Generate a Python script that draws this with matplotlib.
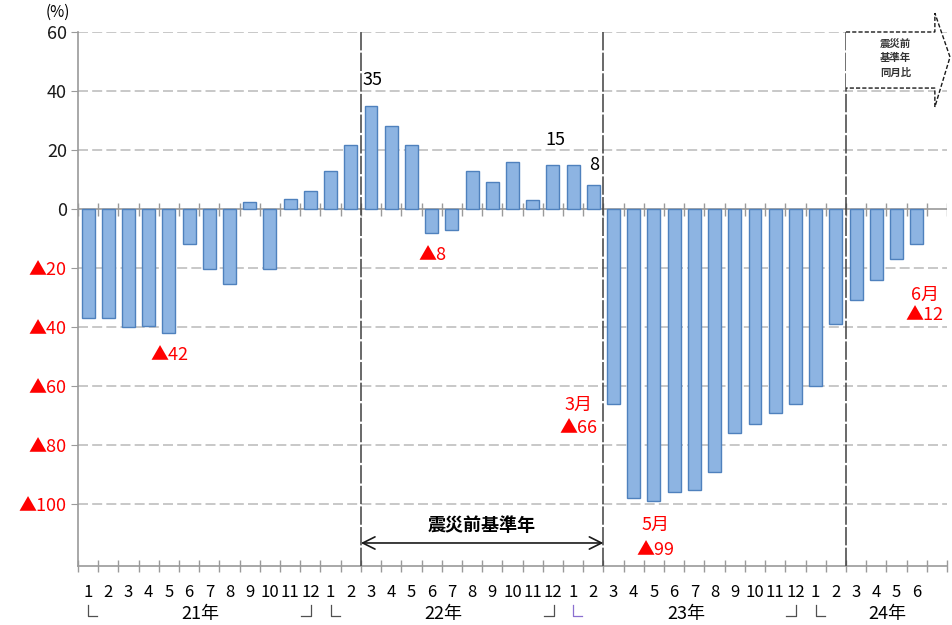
import numpy as np
import matplotlib
matplotlib.use('Agg')
import matplotlib.pyplot as plt
from matplotlib.patches import Polygon
from matplotlib.lines import Line2D
from matplotlib.transforms import blended_transform_factory

plt.rcParams['font.family'] = ['Noto Sans CJK JP', 'DejaVu Sans']

# monthly change (%) vs. pre-disaster base year, 21年1月 .. 24年6月
months = [1, 2, 3, 4, 5, 6, 7, 8, 9, 10, 11, 12,
          1, 2, 3, 4, 5, 6, 7, 8, 9, 10, 11, 12,
          1, 2, 3, 4, 5, 6, 7, 8, 9, 10, 11, 12,
          1, 2, 3, 4, 5, 6]
values = [-37, -37, -40, -39.5, -42, -12, -20.5, -25.5, 2.4, -20.5, 3.4, 6.2,
          13, 21.6, 35, 28, 21.6, -8, -7, 13, 9, 16, 3.2, 15,
          15, 8, -66, -98, -99, -96, -95.3, -89, -76, -73, -69, -66,
          -60, -39, -31, -24, -17, -12]
year_labels = ['21年', '22年', '23年', '24年']
year_pos = [5.55, 17.6, 29.6, 39.55]
yticks = [60, 40, 20, 0, -20, -40, -60, -80, -100]
ytick_labels = ['60', '40', '20', '0', '▲20', '▲40', '▲60', '▲80', '▲100']
period_edges = [13.5, 25.5, 37.5]

RED = '#FF0000'
GRID = '#BFBFBF'

fig = plt.figure(figsize=(9.53, 6.25), dpi=100)
ax = fig.add_axes([0.0818, 0.0944, 0.9119, 0.8544])

x = np.arange(len(values))
ax.bar(x, values, width=0.64, color='#8DB4E2', edgecolor='#4F81BD', linewidth=1.0, zorder=3)

ax.set_xlim(-0.5, 42.5)
ax.set_ylim(-121, 60)

# grid
for v in yticks:
    if v != 0:
        ax.axhline(v, color=GRID, lw=1.2, ls=(0, (6, 2.5)), zorder=1)

# zero line with its own ticks
bounds = np.arange(-0.5, 43.0, 1.0)
ax.axhline(0, color='#9A9A9A', lw=1.2, zorder=2)
ax.vlines(bounds, -2.2, 2.2, color='#9A9A9A', lw=1.0, zorder=2)

# period separators
for xe in period_edges:
    ax.axvline(xe, color='#404040', lw=1.1, ls=(0, (12, 1.5)), zorder=4)

# spines / ticks
for s in ['top', 'right']:
    ax.spines[s].set_visible(False)
ax.spines['left'].set_color('#9A9A9A')
ax.spines['bottom'].set_color('#9A9A9A')
ax.spines['left'].set_linewidth(1.2)
ax.spines['bottom'].set_linewidth(1.2)

ax.set_yticks(yticks)
ax.set_yticklabels(ytick_labels, fontsize=13)
for lab, v in zip(ax.get_yticklabels(), yticks):
    lab.set_color(RED if v < 0 else '#1a1a1a')
ax.tick_params(axis='y', direction='out', length=5, color='#9A9A9A', pad=3)

ax.set_xticks(x)
ax.set_xticklabels([str(m) for m in months], fontsize=12)
ax.set_xticks(bounds, minor=True)
ax.tick_params(axis='x', which='major', length=0, pad=13)
ax.tick_params(axis='x', which='minor', direction='inout', length=9, color='#9A9A9A', width=1.0)

# year labels and brackets under month labels
tr = blended_transform_factory(ax.transData, fig.transFigure)
for xp, lab in zip(year_pos, year_labels):
    ax.text(xp, 1 - 614 / 625, lab, transform=tr, ha='center', va='center', fontsize=13, clip_on=False)

y_top, y_bot = 1 - 605 / 625, 1 - 616 / 625
left_br = [(0, '#505050'), (12, '#505050'), (24, '#8A6FD0'), (36, '#505050')]
right_br = [11, 23, 35]
for xc, col in left_br:
    fig.add_artist(Line2D([xc, xc, xc + 0.45], [y_top, y_bot, y_bot], transform=tr, color=col, lw=0.9))
for xc in right_br:
    fig.add_artist(Line2D([xc + 0.05, xc + 0.05, xc - 0.45], [y_top, y_bot, y_bot], transform=tr, color='#505050', lw=0.9))

# unit label
ax.text(-1.5, 66.5, '(%)', fontsize=11, ha='center', va='center', clip_on=False)

# value annotations
ax.text(14.05, 43.7, '35', fontsize=13, ha='center', va='center')
ax.text(23.1, 23.4, '15', fontsize=13, ha='center', va='center')
ax.text(25.05, 14.9, '8', fontsize=13, ha='center', va='center')
ax.text(17.05, -15.6, '▲8', fontsize=13, ha='center', va='center', color=RED)
ax.text(4.05, -49.5, '▲42', fontsize=13, ha='center', va='center', color=RED)
ax.text(24.25, -66.4, '3月', fontsize=13, ha='center', va='center', color=RED)
ax.text(24.25, -74.2, '▲66', fontsize=13, ha='center', va='center', color=RED)
ax.text(28.06, -107, '5月', fontsize=13, ha='center', va='center', color=RED)
ax.text(28.06, -115.6, '▲99', fontsize=13, ha='center', va='center', color=RED)
ax.text(41.4, -29, '6月', fontsize=13, ha='center', va='center', color=RED)
ax.text(41.4, -36, '▲12', fontsize=13, ha='center', va='center', color=RED)

# base-year span arrow
ax.annotate('', xy=(13.5, -113.2), xytext=(25.5, -113.2),
            arrowprops=dict(arrowstyle='<->', color='#1a1a1a', lw=1.2,
                            mutation_scale=22, shrinkA=0, shrinkB=0), zorder=5)
ax.text(19.5, -107.2, '震災前基準年', fontsize=13, ha='center', va='center', fontweight='bold')

# dashed block arrow at top right
box = [(37.5, 60), (41.9, 60), (41.9, 66.4), (42.65, 51.5), (41.9, 34.6), (41.9, 41), (37.5, 41)]
ax.add_patch(Polygon(box, closed=False, fill=True, facecolor='white', edgecolor='#1a1a1a',
                     lw=1.0, ls=(0, (3, 1.5)), clip_on=False, zorder=5))
for yy, t in zip([55.9, 51.2, 46.1], ['震災前', '基準年', '同月比']):
    ax.text(39.95, yy, t, fontsize=7.5, ha='center', va='center', fontweight='bold', color='#333333', zorder=6)

fig.savefig('out.png', dpi=100)
